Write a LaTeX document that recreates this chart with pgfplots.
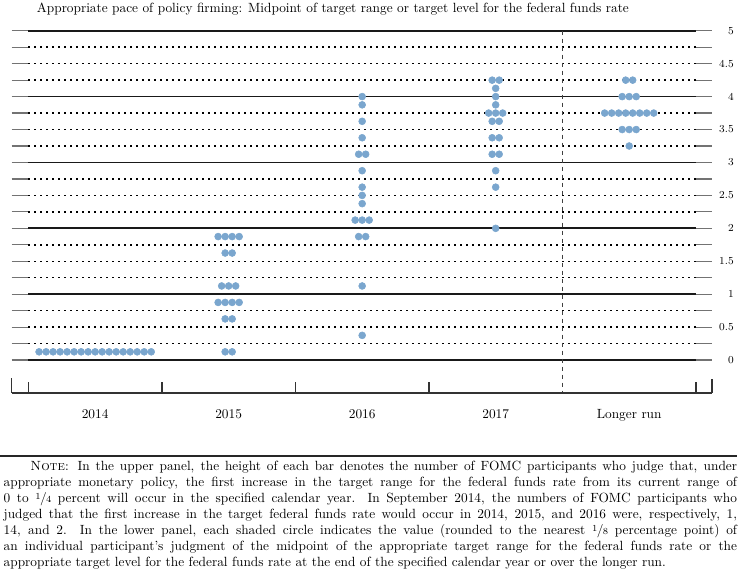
\documentclass[border=0pt]{standalone}
\usepackage{pgfplots}
\pgfplotsset{compat=1.18}
\definecolor{dotblue}{RGB}{122,166,206}
\newcommand{\myfrac}[2]{\raisebox{0.55ex}{\scriptsize #1}\kern-0.05em/\kern-0.05em{\scriptsize #2}}

\begin{document}
\begin{tikzpicture}
\useasboundingbox (0,0) rectangle (560.25pt,431.25pt);
\node[anchor=base west, inner sep=0pt, font=\fontsize{10}{12}\selectfont] at (27.5pt,421.7pt)
  {Appropriate pace of policy firming: Midpoint of target range or target level for the federal funds rate};
\begin{axis}[
  at={(8.78pt,136.5pt)}, anchor=south west,
  scale only axis, width=525.2pt, height=271.7pt,
  xmin=-0.125, xmax=5.12, ymin=-0.5, ymax=5,
  axis line style={draw=none},
  tick style={draw=none},
  clip=false,
  xtick={0.5,1.5,2.5,3.5,4.5},
  xticklabels={2014,2015,2016,2017,Longer run},
  xticklabel style={anchor=base, yshift=-19.3pt, font=\fontsize{10}{12}\selectfont},
  ytick={0,0.5,1,1.5,2,2.5,3,3.5,4,4.5,5},
  yticklabel pos=right,
  yticklabel style={anchor=east, inner sep=0pt, xshift=16.5pt, font=\fontsize{8.5}{10}\selectfont},
]
% participants' midpoints, one plot per column
\addplot[only marks, mark=*, mark size=2.6pt, color=dotblue] coordinates {
(0.08,0.125)(0.1325,0.125)(0.185,0.125)(0.2375,0.125)(0.29,0.125)(0.3425,0.125)
(0.395,0.125)(0.4475,0.125)(0.5,0.125)(0.5525,0.125)(0.605,0.125)(0.6575,0.125)
(0.71,0.125)(0.7625,0.125)(0.815,0.125)(0.8675,0.125)(0.92,0.125)
};
\addplot[only marks, mark=*, mark size=2.6pt, color=dotblue] coordinates {
(1.47375,0.125)(1.52625,0.125)
(1.47375,0.625)(1.52625,0.625)
(1.42125,0.875)(1.47375,0.875)(1.52625,0.875)(1.57875,0.875)
(1.4475,1.125)(1.5,1.125)(1.5525,1.125)
(1.47375,1.625)(1.52625,1.625)
(1.42125,1.875)(1.47375,1.875)(1.52625,1.875)(1.57875,1.875)
};
\addplot[only marks, mark=*, mark size=2.6pt, color=dotblue] coordinates {
(2.5,0.375)
(2.5,1.125)
(2.47375,1.875)(2.52625,1.875)
(2.4475,2.125)(2.5,2.125)(2.5525,2.125)
(2.5,2.375)(2.5,2.5)(2.5,2.625)(2.5,2.875)
(2.47375,3.125)(2.52625,3.125)
(2.5,3.375)(2.5,3.625)(2.5,3.875)(2.5,4)
};
\addplot[only marks, mark=*, mark size=2.6pt, color=dotblue] coordinates {
(3.5,2)(3.5,2.625)(3.5,2.875)
(3.47375,3.125)(3.52625,3.125)
(3.47375,3.375)(3.52625,3.375)
(3.47375,3.625)(3.52625,3.625)
(3.4475,3.75)(3.5,3.75)(3.5525,3.75)
(3.5,3.875)(3.5,4)(3.5,4.125)
(3.47375,4.25)(3.52625,4.25)
};
\addplot[only marks, mark=*, mark size=2.6pt, color=dotblue] coordinates {
(4.5,3.25)
(4.4475,3.5)(4.5,3.5)(4.5525,3.5)
(4.31625,3.75)(4.36875,3.75)(4.42125,3.75)(4.47375,3.75)
(4.52625,3.75)(4.57875,3.75)(4.63125,3.75)(4.68375,3.75)
(4.4475,4)(4.5,4)(4.5525,4)
(4.47375,4.25)(4.52625,4.25)
};
% rules across the panel
\pgfplotsinvokeforeach{0,1,2,3,4,5}{
  \draw[black!90, line width=1.3pt] (axis cs:0,#1) -- (axis cs:5,#1);
}
\pgfplotsinvokeforeach{0.25,0.5,0.75,1.25,1.5,1.75,2.25,2.5,2.75,3.25,3.5,3.75,4.25,4.5,4.75}{
  \draw[black, line width=1.1pt, dash pattern=on 1.1pt off 3.4pt] (axis cs:0,#1) -- (axis cs:5,#1);
}
\pgfplotsinvokeforeach{0,0.25,0.5,0.75,1,1.25,1.5,1.75,2,2.25,2.5,2.75,3,3.25,3.5,3.75,4,4.25,4.5,4.75,5}{
  \draw[black!55, line width=0.9pt] (axis cs:-0.125,#1) -- (axis cs:0,#1);
  \draw[black!55, line width=0.9pt] (axis cs:5,#1) -- (axis cs:5.12,#1);
}
\draw[black!75, line width=1.1pt, dash pattern=on 3pt off 3pt] (axis cs:4,5) -- (axis cs:4,-0.5);
\draw[black!80, line width=0.9pt] (axis cs:-0.125,-0.5) -- (axis cs:5.12,-0.5);
\draw[black!80, line width=0.9pt] (axis cs:-0.125,-0.5) -- (axis cs:-0.125,-0.27);
\draw[black!80, line width=0.9pt] (axis cs:5.12,-0.5) -- (axis cs:5.12,-0.28);
\pgfplotsinvokeforeach{0,1,2,3,5}{
  \draw[black!80, line width=0.9pt] (axis cs:#1,-0.5) -- (axis cs:#1,-0.34);
}
\end{axis}
\draw[black!85, line width=1.4pt] (0,89.5pt) -- (552.75pt,89.5pt);
\node[anchor=north west, inner sep=0pt] at (2.6pt,85.7pt) {\parbox[t]{550pt}{\fontsize{10}{12}\selectfont
\hspace*{20pt}\textsc{Note}: In the upper panel, the height of each bar denotes the number of FOMC participants who judge that, under\linebreak
appropriate monetary policy, the first increase in the target range for the federal funds rate from its current range of\linebreak
0 to \myfrac{1}{4} percent will occur in the specified calendar year. In September 2014, the numbers of FOMC participants who\linebreak
judged that the first increase in the target federal funds rate would occur in 2014, 2015, and 2016 were, respectively, 1,\linebreak
14, and 2. In the lower panel, each shaded circle indicates the value (rounded to the nearest \myfrac{1}{8} percentage point) of\linebreak
an individual participant's judgment of the midpoint of the appropriate target range for the federal funds rate or the\linebreak
appropriate target level for the federal funds rate at the end of the specified calendar year or over the longer run.}};
\end{tikzpicture}
\end{document}
